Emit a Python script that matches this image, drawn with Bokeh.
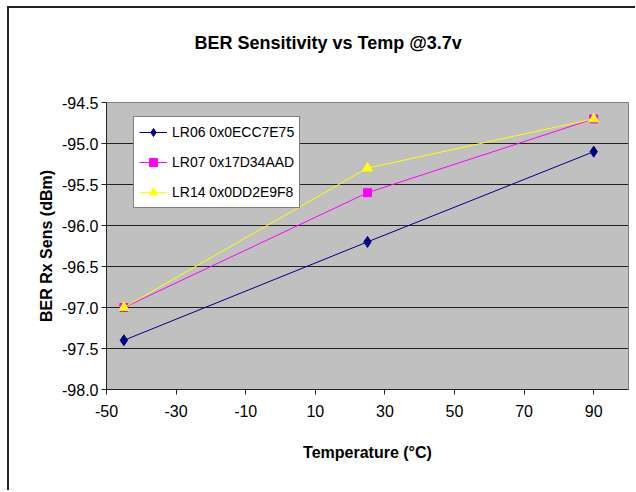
from bokeh.plotting import figure
from bokeh.models import Range1d, FixedTicker, Legend, LegendItem, NumeralTickFormatter, Title
from bokeh.embed import file_html
from bokeh.resources import INLINE

title_text = "BER Sensitivity vs Temp @3.7v"
x_label = "Temperature (°C)"
y_label = "BER Rx Sens (dBm)"

temps = [-45, 25, 90]
lr06 = [-97.4, -96.2, -95.1]
lr07 = [-97.0, -95.6, -94.7]
lr14 = [-97.0, -95.3, -94.7]
series_names = ["LR06 0x0ECC7E75", "LR07 0x17D34AAD", "LR14 0x0DD2E9F8"]

x_ticks = [-50, -30, -10, 10, 30, 50, 70, 90]
y_ticks = [-98.0, -97.5, -97.0, -96.5, -96.0, -95.5, -95.0, -94.5]

FONT = "Liberation Sans"

p = figure(width=628, height=484, output_backend="svg", toolbar_location=None,
           x_range=Range1d(-50, 100), y_range=Range1d(-98.0, -94.5),
           min_border_left=97, min_border_right=9, min_border_top=94, min_border_bottom=103,
           styles={"border-top": "2px solid #222222", "border-left": "2px solid #222222",
                   "margin-left": "7px", "margin-top": "6px"})

p.title.text = title_text
p.title.align = "left"
p.title.offset = 88
p.title.standoff = 40
p.title.text_font = FONT
p.title.text_font_size = "18px"
p.title.text_font_style = "bold"
p.title.text_color = "black"

# blank spacer panel between the title and the plot area
spacer = Title(text=" ", text_font_size="10px", standoff=17)
p.add_layout(spacer, "above")

p.background_fill_color = "#C0C0C0"
p.border_fill_color = "white"
p.outline_line_color = "#808080"
p.outline_line_width = 1

p.xgrid.grid_line_color = None
p.ygrid.grid_line_color = "#222222"
p.ygrid.grid_line_width = 1
p.ygrid.ticker = FixedTicker(ticks=y_ticks)

p.xaxis.ticker = FixedTicker(ticks=x_ticks)
p.yaxis.ticker = FixedTicker(ticks=y_ticks)
p.xaxis.formatter = NumeralTickFormatter(format="0")
p.yaxis.formatter = NumeralTickFormatter(format="0.0")

for ax in (p.xaxis[0], p.yaxis[0]):
    ax.axis_line_color = "#222222"
    ax.major_tick_line_color = "#222222"
    ax.major_tick_out = 5
    ax.major_tick_in = 0
    ax.minor_tick_line_color = None
    ax.major_label_text_font = FONT
    ax.major_label_text_font_size = "16px"
    ax.major_label_text_color = "black"
    ax.axis_label_text_font = FONT
    ax.axis_label_text_font_size = "16px"
    ax.axis_label_text_font_style = "bold"
    ax.axis_label_text_color = "black"

p.xaxis.axis_label = x_label
p.yaxis.axis_label = y_label
p.xaxis.major_label_standoff = 10
p.xaxis.axis_label_standoff = 24
p.yaxis.major_label_standoff = 3
p.yaxis.axis_label_standoff = 4

r1 = p.line(temps, lr06, line_color="#000080", line_width=1)
m1 = p.scatter(temps, lr06, marker="diamond", size=11, fill_color="#000080", line_color="#000080")
r2 = p.line(temps, lr07, line_color="#FF00FF", line_width=1)
m2 = p.scatter(temps, lr07, marker="square", size=8, fill_color="#FF00FF", line_color="#FF00FF")
r3 = p.line(temps, lr14, line_color="#FFFF00", line_width=1)
m3 = p.scatter(temps, lr14, marker="triangle", size=10, fill_color="#FFFF00", line_color="#FFFF00")

legend = Legend(items=[
    LegendItem(label=series_names[0], renderers=[r1, m1]),
    LegendItem(label=series_names[1], renderers=[r2, m2]),
    LegendItem(label=series_names[2], renderers=[r3, m3]),
], location=(27, 181))
legend.margin = 0
legend.padding = 5
legend.spacing = 10
legend.glyph_width = 28
legend.glyph_height = 20
legend.label_height = 20
legend.label_standoff = 5
legend.label_text_font = FONT
legend.label_text_font_size = "14px"
legend.label_text_color = "black"
legend.border_line_color = "black"
legend.border_line_width = 1
legend.background_fill_color = "white"
legend.background_fill_alpha = 1
p.add_layout(legend, "center")

open("out.html", "w").write(file_html(p, INLINE))
